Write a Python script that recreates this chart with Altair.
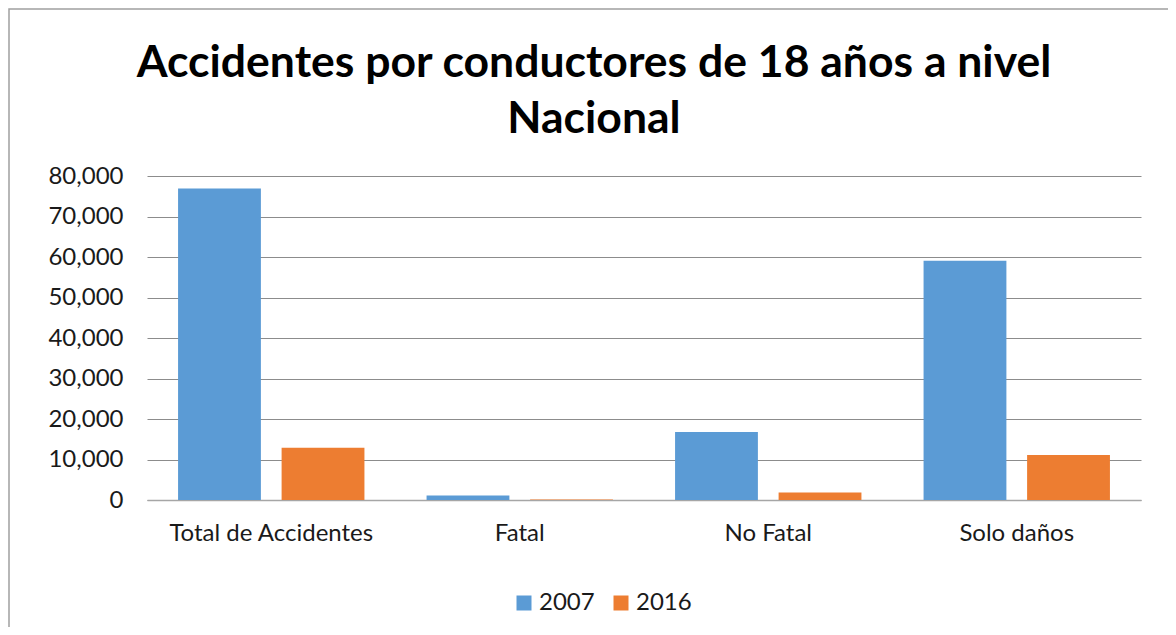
import altair as alt
import pandas as pd

categories = ["Total de Accidentes", "Fatal", "No Fatal", "Solo daños"]
years = ["2007", "2016"]
values_2007 = [76900, 1100, 16800, 59100]
values_2016 = [12900, 150, 1850, 11100]

rows = []
for i, c in enumerate(categories):
    rows.append({"cat": c, "year": "2007", "value": values_2007[i]})
    rows.append({"cat": c, "year": "2016", "value": values_2016[i]})
df = pd.DataFrame(rows)

FONT = "Lato"
LBL = 24

bars = alt.Chart(df).mark_bar().encode(
    x=alt.X("cat:N", sort=categories, title=None,
            scale=alt.Scale(paddingInner=0.25, paddingOuter=0.125),
            axis=alt.Axis(labelAngle=0, ticks=False, domainColor="#a6a6a6", domainWidth=1.5,
                          labelFontSize=LBL, labelFont=FONT, labelColor="#1a1a1a", labelPadding=21,
                          labelLimit=0, grid=False)),
    xOffset=alt.XOffset("year:N", sort=years, scale=alt.Scale(paddingInner=0.2)),
    y=alt.Y("value:Q", title=None,
            scale=alt.Scale(domain=[0, 80000], nice=False),
            axis=alt.Axis(values=list(range(0, 80001, 10000)), format=",d", ticks=False, domain=False,
                          gridColor="#8c8c8c", gridWidth=1, labelFontSize=LBL, labelFont=FONT,
                          labelColor="#1a1a1a", labelPadding=24)),
    color=alt.Color("year:N", sort=years,
                    scale=alt.Scale(domain=years, range=["#5B9BD5", "#ED7D31"]),
                    legend=alt.Legend(title=None, orient="none", direction="horizontal",
                                      legendX=365, legendY=415, symbolType="square", symbolSize=225,
                                      symbolStrokeWidth=0, labelFontSize=LBL, labelFont=FONT,
                                      labelColor="#1a1a1a", columnPadding=14, labelOffset=3)),
)

frame = alt.Chart(pd.DataFrame({"a": [0]})).mark_rect(fill=None, stroke="#a0a0a0", strokeWidth=1.5).encode(
    x=alt.value(-138), x2=alt.value(1040), y=alt.value(-167), y2=alt.value(480)
)

chart = alt.layer(frame, bars).properties(
    width=994, height=324,
    padding={"left": 139, "top": 168, "right": 27, "bottom": 127},
    autosize=alt.AutoSizeParams(type="none"),
    title=alt.TitleParams(
        text=["Accidentes por conductores de 18 años a nivel", "Nacional"],
        fontSize=44.5, font=FONT, fontWeight="bold", color="#000000",
        anchor="middle", dx=-50, offset=0, dy=134, lineHeight=56,
    ),
).configure_view(stroke=None)

chart.save("out.html", embed_options={"renderer": "svg", "actions": False})
